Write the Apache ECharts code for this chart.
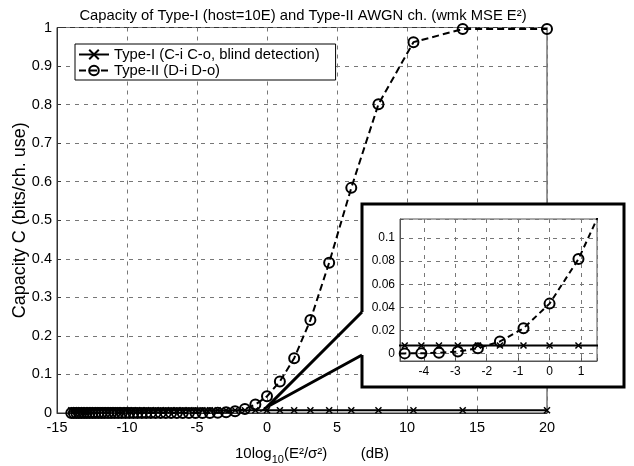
<!DOCTYPE html>
<html><head><meta charset="utf-8">
<script src="https://cdn.jsdelivr.net/npm/echarts@6/dist/echarts.min.js"></script>
<style>html,body{margin:0;padding:0;background:#fff}#c{width:634px;height:466px}</style>
</head><body><div id="c"></div>
<script>
// SNR values in dB (x)
const xDb = [-13.98,-13.80,-13.62,-13.44,-13.26,-13.06,-12.87,-12.67,-12.46,-12.26,
  -12.04,-11.82,-11.60,-11.36,-11.13,-10.88,-10.63,-10.37,-10.10,-9.83,
  -9.54,-9.25,-8.94,-8.63,-8.30,-7.96,-7.60,-7.23,-6.85,-6.44,
  -6.02,-5.58,-5.11,-4.61,-4.08,-3.52,-2.92,-2.28,-1.58,-0.83,
  0.00,0.92,1.94,3.10,4.44,6.02,7.96,10.46,13.98,20.00];
// Type-I capacity (nearly constant)
const typeI = [0.007,0.007,0.007,0.007,0.007,0.007,0.007,0.007,0.007,0.007,
  0.007,0.007,0.007,0.007,0.007,0.007,0.007,0.007,0.007,0.007,
  0.007,0.007,0.007,0.007,0.007,0.007,0.007,0.007,0.007,0.007,
  0.007,0.007,0.007,0.007,0.007,0.007,0.007,0.007,0.007,0.007,
  0.007,0.007,0.007,0.007,0.007,0.007,0.007,0.007,0.007,0.007];
// Type-II capacity
const typeII = [0,0,0,0,0,0,0,0,0,0,
  0,0,0,0,0,0,0,0,0,0,
  0,0,0,0,0,0,0,0,0,0,
  0,0,0,0.0001,0.0002,0.0006,0.0017,0.0046,0.0104,0.0218,
  0.0432,0.0818,0.142,0.241,0.390,0.584,0.801,0.962,0.996,0.996];
const xTicksMain = [-15,-10,-5,0,5,10,15,20];
const yTicksMain = [0,0.1,0.2,0.3,0.4,0.5,0.6,0.7,0.8,0.9,1];
const nameI = 'Type-I (C-i C-o, blind detection)';
const nameII = 'Type-II (D-i D-o)';

const FF = '"Liberation Sans", Arial, Helvetica, sans-serif';
const pairs = (ys) => xDb.map((x, i) => [x, ys[i]]);
const xMark = 'path://M0,0L10,10M0,10L10,0';

const chart = echarts.init(document.getElementById('c'), null, {renderer: 'canvas'});
const splitDash = {show: true, lineStyle: {color: '#777', type: [4, 5], width: 1}};
const fmtStep = (step, dec) => (v) => {
  const r = v / step;
  return Math.abs(r - Math.round(r)) < 1e-6 ? String(+(Math.round(r) * step).toFixed(dec)) : '';
};

chart.setOption({
  animation: false,
  backgroundColor: '#fff',
  title: {
    text: 'Capacity of Type-I (host=10E) and Type-II AWGN ch. (wmk MSE E²)',
    left: 298, top: 3, textAlign: 'center',
    textStyle: {fontFamily: FF, fontSize: 14.8, fontWeight: 'normal', color: '#000'}
  },
  legend: {
    left: 75, top: 44, orient: 'vertical',
    itemWidth: 30, itemHeight: 12, itemGap: 1, itemTextGap: 10,
    padding: [3, 16, 2, 3],
    borderColor: '#000', borderWidth: 1, backgroundColor: '#fff',
    textStyle: {fontFamily: FF, fontSize: 14.8, color: '#000'},
    data: [nameI, nameII]
  },
  grid: [
    {left: 57, top: 27.5, width: 490, height: 385.5, show: true, borderColor: '#333', borderWidth: 1,
     backgroundColor: 'transparent', containLabel: false, outerBoundsMode: 'none'},
    {left: 400, top: 219, width: 197, height: 142, show: true, borderColor: '#555', borderWidth: 1,
     backgroundColor: '#fff', z: 10, containLabel: false, outerBoundsMode: 'none'}
  ],
  xAxis: [
    {gridIndex: 0, type: 'value', min: -15, max: 20, interval: 5,
     axisLine: {show: true, onZero: false, lineStyle: {color: '#333'}},
     axisTick: {show: true, inside: true, length: 4, lineStyle: {color: '#333'}},
     axisLabel: {fontFamily: FF, fontSize: 14.5, color: '#000', margin: 7},
     splitLine: splitDash,
     name: '10log{sub|10}(E²/σ²)        (dB)', nameLocation: 'middle', nameGap: 30,
     nameMoveOverlap: false,
     nameTextStyle: {fontFamily: FF, fontSize: 15, color: '#000', padding: [0, 0, 0, 20],
       rich: {sub: {fontFamily: FF, fontSize: 11, color: '#000', padding: [11, 0, 0, 0]}}}},
    {gridIndex: 1, type: 'value', min: -4.76, max: 1.51, z: 10,
     axisLine: {show: true, onZero: false, lineStyle: {color: '#555'}},
     axisTick: {show: true, inside: true, length: 3, lineStyle: {color: '#555'}},
     axisLabel: {fontFamily: FF, fontSize: 12, color: '#000', margin: 5, formatter: fmtStep(1, 0)},
     splitLine: splitDash}
  ],
  yAxis: [
    {gridIndex: 0, type: 'value', min: 0, max: 1, interval: 0.1,
     axisLine: {show: true, onZero: false, lineStyle: {color: '#333'}},
     axisTick: {show: true, inside: true, length: 4, lineStyle: {color: '#333'}},
     axisLabel: {fontFamily: FF, fontSize: 14.5, color: '#000', margin: 5},
     splitLine: splitDash,
     name: 'Capacity C (bits/ch. use)', nameLocation: 'middle', nameGap: 28, nameRotate: 90,
     nameMoveOverlap: false,
     nameTextStyle: {fontFamily: FF, fontSize: 18, color: '#000'}},
    {gridIndex: 1, type: 'value', min: -0.0065, max: 0.1165, z: 10,
     axisLine: {show: true, onZero: false, lineStyle: {color: '#555'}},
     axisTick: {show: true, inside: true, length: 3, lineStyle: {color: '#555'}},
     axisLabel: {fontFamily: FF, fontSize: 12, color: '#000', margin: 5, formatter: fmtStep(0.02, 2)},
     splitLine: splitDash}
  ],
  graphic: [
    {type: 'rect', z: 5, shape: {x: 362, y: 204, width: 262, height: 183}, style: {fill: '#fff'}},
    {type: 'polyline', z: 6, shape: {points: [[362, 312], [362, 204], [624, 204], [624, 387], [362, 387], [362, 355]]},
     style: {stroke: '#000', lineWidth: 3, fill: null}},
    {type: 'polyline', z: 6, shape: {points: [[362, 312], [267, 407], [362, 355]]},
     style: {stroke: '#000', lineWidth: 3, fill: null}}
  ],
  series: [
    {name: nameI, type: 'line', xAxisIndex: 0, yAxisIndex: 0, data: pairs(typeI),
     symbol: xMark, symbolSize: 6, showAllSymbol: true,
     lineStyle: {color: '#000', width: 2}, itemStyle: {color: '#000', borderColor: '#000', borderWidth: 1.5}, z: 3},
    {name: nameII, type: 'line', xAxisIndex: 0, yAxisIndex: 0, data: pairs(typeII),
     symbol: 'circle', symbolSize: 10, showAllSymbol: true,
     lineStyle: {color: '#000', width: 2, type: [7, 4]},
     itemStyle: {color: 'rgba(0,0,0,0)', borderColor: '#000', borderWidth: 2}, z: 4},
    {name: nameI, type: 'line', xAxisIndex: 1, yAxisIndex: 1, data: pairs(typeI),
     symbol: xMark, symbolSize: 6, showAllSymbol: true, clip: true,
     lineStyle: {color: '#000', width: 2}, itemStyle: {color: '#000', borderColor: '#000', borderWidth: 1.5}, z: 12},
    {name: nameII, type: 'line', xAxisIndex: 1, yAxisIndex: 1, data: pairs(typeII),
     symbol: 'circle', symbolSize: 10, showAllSymbol: true, clip: true,
     lineStyle: {color: '#000', width: 2, type: [6, 4]},
     itemStyle: {color: 'rgba(0,0,0,0)', borderColor: '#000', borderWidth: 2}, z: 13}
  ]
});
</script></body></html>
